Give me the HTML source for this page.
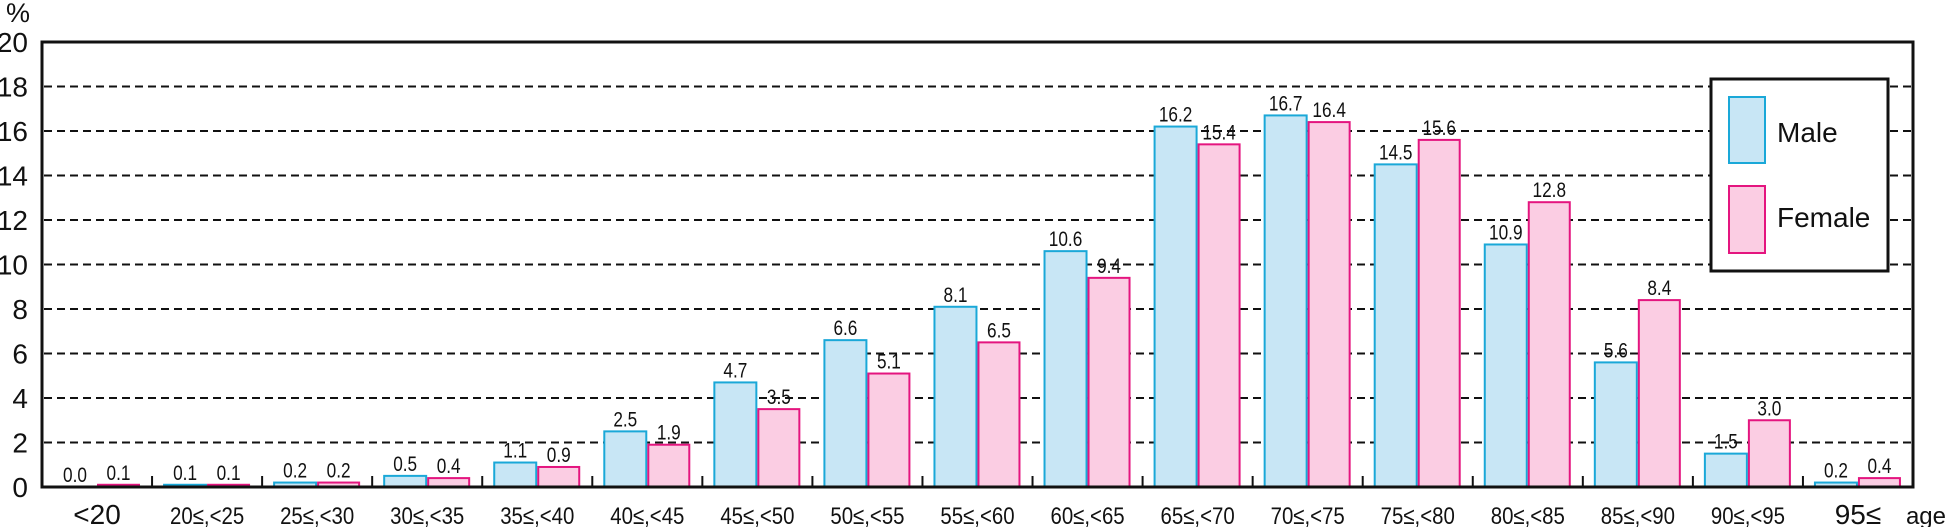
<!DOCTYPE html>
<html><head><meta charset="utf-8"><style>
html,body{margin:0;padding:0;background:#fff;}
svg{display:block;font-family:"Liberation Sans",sans-serif;}
</style></head><body>
<svg id="c" width="1946" height="527" xmlns="http://www.w3.org/2000/svg"></svg>
<script>
var s=document.getElementById('c');var h='';
var L=42,R=1913,T=42,B=487,U=(B-T)/20,G=(R-L)/17;
function y(v){return B-v*U;}
for(var v=2;v<20;v+=2){h+='<line x1="'+(L+2)+'" x2="'+(R-2)+'" y1="'+y(v)+'" y2="'+y(v)+'" stroke="#111" stroke-width="2" stroke-dasharray="8,5"/>';}
for(var v=0;v<=20;v+=2){h+='<text x="28" y="'+(y(v)+10)+'" font-size="28" text-anchor="end" fill="#111">'+v+'</text>';}
h+='<text x="6" y="22" font-size="27" fill="#111">%</text>';
var M=[0.0,0.1,0.2,0.5,1.1,2.5,4.7,6.6,8.1,10.6,16.2,16.7,14.5,10.9,5.6,1.5,0.2];
var F=[0.1,0.1,0.2,0.4,0.9,1.9,3.5,5.1,6.5,9.4,15.4,16.4,15.6,12.8,8.4,3.0,0.4];
var C=['<20','20≤,<25','25≤,<30','30≤,<35','35≤,<40','40≤,<45','45≤,<50','50≤,<55','55≤,<60','60≤,<65','65≤,<70','70≤,<75','75≤,<80','80≤,<85','85≤,<90','90≤,<95','95≤'];
for(var i=0;i<17;i++){
 var x0=L+G*i;
 if(i>0)h+='<line x1="'+x0+'" x2="'+x0+'" y1="476" y2="'+B+'" stroke="#111" stroke-width="2"/>';
 var mx=x0+12,fx=x0+56;
 if(M[i]>0)h+='<rect x="'+mx+'" y="'+y(M[i])+'" width="42" height="'+(M[i]*U)+'" fill="#c8e6f5" stroke="#1aa8d8" stroke-width="2"/>';
 h+='<rect x="'+fx+'" y="'+y(F[i])+'" width="41" height="'+(F[i]*U)+'" fill="#fbcde3" stroke="#e4157f" stroke-width="2"/>';
 h+='<text transform="translate('+(mx+21)+','+(y(M[i])-5)+') scale(0.82,1)" font-size="21" text-anchor="middle" fill="#111">'+M[i].toFixed(1)+'</text>';
 h+='<text transform="translate('+(fx+20.5)+','+(y(F[i])-5)+') scale(0.82,1)" font-size="21" text-anchor="middle" fill="#111">'+F[i].toFixed(1)+'</text>';
 var big=(i==0||i==16);
 h+='<text transform="translate('+(x0+G/2)+',524) scale('+(big?1:0.85)+',1)" font-size="'+(big?28:24)+'" text-anchor="middle" fill="#111">'+C[i].replace('<','&lt;').replace('<','&lt;')+'</text>';
}
h+='<text x="1946" y="524" font-size="24" text-anchor="end" fill="#111">age</text>';
h+='<rect x="'+L+'" y="'+T+'" width="'+(R-L)+'" height="'+(B-T)+'" fill="none" stroke="#111" stroke-width="3"/>';
h+='<rect x="1711" y="79" width="177" height="192" fill="#fff" stroke="#111" stroke-width="3"/>';
h+='<rect x="1729" y="97" width="36" height="66" fill="#c8e6f5" stroke="#1aa8d8" stroke-width="2"/>';
h+='<rect x="1729" y="186" width="36" height="67" fill="#fbcde3" stroke="#e4157f" stroke-width="2"/>';
h+='<text x="1777" y="142" font-size="28" fill="#111">Male</text>';
h+='<text x="1777" y="227" font-size="28" fill="#111">Female</text>';
s.innerHTML=h;
</script>
</body></html>
